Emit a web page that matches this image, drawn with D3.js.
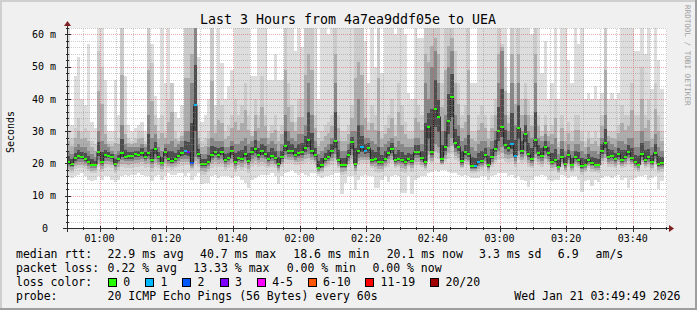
<!DOCTYPE html>
<html><head><meta charset="utf-8">
<script src="https://cdn.jsdelivr.net/npm/d3@7"></script>
<style>
body{margin:0;background:#f0f0f0}
svg{display:block}
text{font-family:"DejaVu Sans Mono",monospace;white-space:pre}
</style>
</head><body>
<svg id="c" width="697" height="310"></svg>
<script>
// ---------- data ----------
const startTime = "2026-01-21T00:50:15";
const endTime   = "2026-01-21T03:50:15";
const stepSeconds = 60;
const title = "Last 3 Hours from 4a7ea9ddf05e to UEA";
const yTickValues = [0,10,20,30,40,50,60];
const yTickLabels = ["0","10 m","20 m","30 m","40 m","50 m","60 m"];
const xTickLabels = ["01:00","01:20","01:40","02:00","02:20","02:40","03:00","03:20","03:40"];

// median rtt per minute (ms)
const median = [
20.5,19.8,21.8,22.3,22.1,21.4,20.4,19.6,19.6,23.5,
20.4,22.6,22.3,22.1,19.8,21.5,23.3,22.1,22.2,22.2,
22.9,22.7,23.3,22.1,23.3,21.1,24.6,22.1,20.2,23.5,
21.5,20.8,21.5,22.3,23.3,23.9,23.5,20.2,38.2,22.9,
19.8,19.8,20.4,22.7,23.5,22.7,23.5,21.1,21.7,23.9,
20.5,21.7,21.3,22.8,20.8,23.5,24.5,22.6,23.9,22.9,
21.4,22.3,21.7,19.8,22.0,25.4,23.9,23.9,22.7,23.3,
23.5,24.8,27.2,23.9,22.7,18.7,19.6,21.5,22.1,23.9,
26.9,21.1,19.6,19.6,22.6,26.6,19.8,23.9,25.1,23.9,
24.8,21.1,21.4,20.5,20.5,21.5,23.2,24.6,21.1,21.5,
21.1,20.4,21.5,20.8,23.5,23.5,21.7,20.4,31.4,23.5,
36.9,34.5,21.5,25.2,33.2,40.7,26.4,25.2,20.8,23.5,
22.9,19.2,19.2,20.4,20.8,22.6,19.6,22.1,24.6,30.1,
31.4,25.7,24.8,26.1,22.3,31.0,23.9,29.1,22.9,21.5,
27.2,23.3,22.3,25.2,23.3,20.5,21.1,19.0,22.1,19.8,
22.6,19.6,22.0,21.1,19.2,19.6,21.1,20.2,19.6,19.6,
23.9,26.4,22.1,22.3,21.5,22.9,21.1,22.1,23.6,21.7,
20.4,19.6,22.9,21.1,22.0,20.5,23.3,19.8,20.1];

// ping distribution per minute (ms): min, ~10%, ~25%, ~75%, ~90%, max
const pingMin = [
16,15.5,16,16.5,17,16,15,14.5,15,16,
15,16,16,15,14.3,15,16,16.5,16,16.5,
16.5,17,16.5,16,16,14.5,16,16.5,15,16,
17,16.5,16.5,17,17,16,17,15,16,17,
13.7,14,14,16,16.5,15.5,16,16,16,15.5,
16,16,15,14,12.3,15,15.5,16,16.5,16.5,
16.5,17,16,13.7,16,17,17.5,18,17,16.5,
17,16.5,16,17,17,16,15.5,16,16,16.5,
17,17,10.5,14,16,16,11.7,15,16,16.5,
16,16,12.5,12.5,15,16,14.3,16,16.5,16,
10.7,11,16,10.5,15,15.5,16,16,17,17.5,
18,17.5,18,18,17.5,17,17,16.5,16,16.5,
16,15.5,15.5,15.5,16,16,14.8,16,16.5,17,
17,17,16,16.5,15.5,16,15,14.5,12.7,15,
16,16,16.5,16,14.8,14.5,14.8,15,16.5,16,
15.5,16,16,15,11.2,14.5,15,13,14.8,14.3,
15.5,16,16,15.5,16,16.5,15,15.5,12.5,15,
15.5,16,16,16.5,15,15.5,16,12,14.5];
const ping10 = [
17.5,17.2,18.2,18.5,18.7,18.2,17.6,17,17.2,18.8,
17.5,18.7,18.8,18.5,17,18,18.8,18.7,18.5,18.6,
19,19,19.2,18.7,19,17.5,19,18.5,17.5,19,
18.5,18,18.5,19,19.2,19.5,19.5,18,19.5,19,
16.5,16.5,17.5,18.5,19.2,18.8,19,18,18.5,19,
17.5,18.5,18,18.5,17,19,19.5,19,19.2,19,
18.5,19,18.5,17,19,20,20,20.2,19.5,19.5,
19.8,20,20.5,20,19.5,16.8,17,18.5,19,19.5,
20.5,18.5,16.5,16.8,19,20,16.5,19.5,20,20,
20,18.5,17.5,17,17.5,18.5,19,20,18.5,18.8,
17.5,17.2,18.8,17.5,19.5,19.5,18.8,18,21,20,
22,21.5,19.5,20.5,21.5,23,21,20.5,18.5,19.8,
19.5,17.2,17.2,17.5,18,19,17.2,19,20,21,
21.5,20.5,20,20.5,19,21,20,20.5,19,18.5,
20.5,19.5,19,20,19.5,17.8,18,17,19,17.5,
19,17.5,19,18.5,16.5,17.5,18.5,17.5,17.5,17.2,
19.5,20.5,19,19,18.5,19.5,18.5,19,19.5,19,
18,17.5,19.5,18.5,19,18,19.5,17,17.5];
const ping25 = [
19.3,18.8,20,20.5,20.5,20,19.2,18.6,18.6,21,
19.3,20.8,20.8,20.5,18.8,20,21,20.7,20.8,20.8,
21.2,21.2,21.5,20.7,21.5,19.8,21.5,20.6,19.2,21.3,
20.2,19.7,20.2,20.8,21.5,21.5,21.3,19.2,22,21.3,
18.6,18.5,19.2,21,21.6,21,21.5,19.8,20.4,21.5,
19.3,20.4,20,21,19.6,21.5,22,21,21.6,21.3,
20.2,20.8,20.3,18.7,20.6,22.5,22,22,21.2,21.6,
21.7,22.5,23,22,21.2,17.8,18.5,20.2,20.7,21.8,
23,19.8,18.5,18.5,20.8,22.5,18.7,21.8,22,22,
22,19.8,20.1,19.3,19.3,20.2,21.4,22.2,19.8,20.2,
19.8,19.3,20.2,19.6,21.6,21.6,20.4,19.3,24,21.6,
26,25,20.3,22.5,25,28,23.5,22.8,19.6,21.5,
21.2,18.2,18.2,19.3,19.6,20.8,18.5,20.6,22.3,24,
25,23,22.5,23,20.8,24,22,24,21.2,20.2,
23,21.5,20.8,22.5,21.5,19.4,19.9,18,20.6,18.7,
21,18.6,20.5,19.9,18.2,18.6,19.9,19.1,18.6,18.6,
21.8,23,20.6,20.8,20.2,21.2,19.9,20.6,21.8,20.4,
19.3,18.6,21.2,19.9,20.6,19.4,21.5,18.8,19];
const ping75 = [
24,23,25,26,25,25,24,23,22,30,
27,26,25,24,23,24,32,26,25,25,
25,25,26,25,35,28,29,25,24,26,
26,27,25,26,27,30,30,45,63,26,
23,23,25,28,27,27,27,25,25,27,
26,26,27,28,26,27,30,27,28,28,
26,27,26,24,26,35,30,28,27,29,
29,32,45,35,27,23,24,25,26,28,
45,27,24,24,26,30,30,40,32,28,
28,27,26,30,25,26,27,28,25,27,
26,25,25,25,28,28,26,45,40,50,
55,45,30,35,50,55,35,32,27,28,
35,25,24,26,27,27,25,27,30,45,
55,35,30,45,32,45,30,35,30,28,
45,28,27,29,27,26,28,23,27,24,
26,24,26,26,24,23,25,24,24,23,
28,35,27,26,25,27,27,26,28,28,
25,25,30,27,27,25,29,25,24];
const ping90 = [
30,28,31,34,30,31,30,27,26,55,
50,32,27,27,30,28,63,32,28,27,
28,30,30,27,63,51,35,30,35,30,
40,45,30,28,30,63,63,63,63,30,
27,28,30,63,32,40,38,30,32,35,
40,35,38,45,35,30,40,35,47,35,
30,32,35,30,32,63,45,38,33,40,
40,63,63,63,35,28,30,32,33,35,
63,35,30,30,32,38,63,63,63,40,
33,38,35,63,30,32,35,40,32,45,
38,33,30,30,40,38,35,63,63,63,
63,63,45,63,63,63,55,45,35,38,
63,30,30,35,38,35,30,35,40,63,
57,50,35,63,45,63,40,45,40,35,
63,35,30,35,30,32,40,27,35,30,
33,30,35,35,30,27,30,28,30,28,
35,63,30,30,30,32,38,35,35,45,
35,35,50,35,40,30,45,35,30];
const pingMax = [
63,32,47,53,40,38,57,33,31,63,
63,46,30,30,46,35,63,47,32,30,
31,32,33,30,63,57,41,34,63,45,
63,45,36,34,38,63,63,63,63,53,
33,35,40,63,38,63,51,40,44,49,
63,63,63,63,63,47,47,63,63,63,
46,46,54,46,46,63,63,63,55,63,
56,63,63,63,63,40,63,63,60,63,
63,63,63,63,63,63,63,63,63,58,
45,63,50,63,48,63,63,63,60,63,
63,60,42,40,63,59,59,63,63,63,
63,63,63,63,63,63,63,63,63,63,
63,45,45,63,63,63,63,63,63,63,
63,63,42,63,63,63,63,63,63,60,
63,63,48,58,40,45,63,40,63,63,
52,45,63,57,63,40,42,40,44,40,
42,63,40,42,40,42,63,63,63,63,
55,55,63,54,63,43,63,52,43];

// minutes with lost pings (index into the series) and how many of 20 were lost
const lossIndex = [35,36,37,38,88,89,122,123,133,134];
const lossCount = [1,3,2,1,1,1,1,1,1,1];

const lossLabels = ["0","1","2","3","4-5","6-10","11-19","20/20"];
const lossColors = ["#26ff00","#00b8ff","#0059ff","#7e00ff","#ff00ff","#ff5500","#ff0000","#a00000"];

const statsRtt  = ["22.9 ms avg","40.7 ms max","18.6 ms min","20.1 ms now","3.3 ms sd","6.9","am/s"];
const statsLoss = ["0.22 % avg","13.33 % max","0.00 % min","0.00 % now"];
const probeText = "20 ICMP Echo Pings (56 Bytes) every 60s";
const dateText  = "Wed Jan 21 03:49:49 2026";

// ---------- drawing ----------
const W = 697, H = 310;
const X0 = 67, XS = 600, Y0 = 228, YS = 200;
const svg = d3.select("#c");

const parse = d3.timeParse("%Y-%m-%dT%H:%M:%S");
const t0 = parse(startTime), t1 = parse(endTime);
const x = d3.scaleTime().domain([t0, t1]).range([X0, X0 + XS]);
const y = d3.scaleLinear().domain([0, 62]).range([Y0, Y0 - YS]);
const tAt = i => new Date(t0.getTime() + i * stepSeconds * 1000);

function lossColor(n){
  if (n === 0) return lossColors[0];
  if (n <= 3) return lossColors[n];
  if (n <= 5) return lossColors[4];
  if (n <= 10) return lossColors[5];
  if (n <= 19) return lossColors[6];
  return lossColors[7];
}
const lossOf = median.map(() => 0);
lossIndex.forEach((idx, k) => { lossOf[idx] = lossCount[k]; });

// background + shade
svg.append("rect").attr("width", W).attr("height", H).attr("fill", "#f0f0f0");
svg.append("rect").attr("x",0).attr("y",0).attr("width",W).attr("height",2).attr("fill","#cfcfcf");
svg.append("rect").attr("x",0).attr("y",0).attr("width",2).attr("height",H).attr("fill","#cfcfcf");
svg.append("rect").attr("x",0).attr("y",H-2).attr("width",W).attr("height",2).attr("fill","#9e9e9e");
svg.append("rect").attr("x",W-2).attr("y",0).attr("width",2).attr("height",H).attr("fill","#9e9e9e");

// canvas
svg.append("rect").attr("x", X0).attr("y", Y0 - YS).attr("width", XS).attr("height", YS).attr("fill", "#ffffff");

svg.append("clipPath").attr("id","plot").append("rect")
  .attr("x", X0).attr("y", Y0 - YS).attr("width", XS).attr("height", YS);
const g = svg.append("g").attr("clip-path","url(#plot)");

const idx = d3.range(median.length);
const bands = [
  {lo: i => pingMin[i], hi: i => pingMax[i], c: "#dddddd"},
  {lo: i => ping10[i],  hi: i => ping90[i],  c: "#cbcbcb"},
  {lo: i => (ping10[i]+ping25[i])/2, hi: i => (ping75[i]+ping90[i])/2, c: "#adadad"},
  {lo: i => ping25[i],  hi: i => ping75[i],  c: "#878787"},
  {lo: i => (ping25[i]+median[i])/2, hi: i => (median[i]+ping75[i])/2, c: "#4e4e4e"}
];
bands.forEach(b => {
  g.append("g").selectAll("rect").data(idx).join("rect")
    .attr("x", i => x(tAt(i)))
    .attr("width", i => x(tAt(i+1)) - x(tAt(i)) + 0.05)
    .attr("y", i => y(b.hi(i)))
    .attr("height", i => Math.max(0, y(b.lo(i)) - y(b.hi(i))))
    .attr("fill", b.c)
    .attr("shape-rendering","crispEdges");
});

// median line
const pts = idx.map(i => [x(tAt(i)), y(median[i])]);
pts.push([x(tAt(median.length)), y(median[median.length-1])]);
g.append("path").attr("d", d3.line().curve(d3.curveStepAfter)(pts))
  .attr("fill","none").attr("stroke","#202020").attr("stroke-width",1);

// loss-coloured median bars
g.append("g").selectAll("rect").data(idx).join("rect")
  .attr("x", i => x(tAt(i)))
  .attr("width", i => x(tAt(i+1)) - x(tAt(i)) + 0.05)
  .attr("y", i => y(median[i]) - 1)
  .attr("height", 2)
  .attr("fill", i => lossColor(lossOf[i]))
  .attr("shape-rendering","crispEdges");

// grid
const gridG = svg.append("g").attr("shape-rendering","crispEdges");
const minorX = d3.timeMinute.every(5).range(t0, t1).filter(t => t.getMinutes() % 20 !== 0);
const majorX = d3.timeMinute.every(20).range(t0, t1);
const minorY = d3.range(2, 63, 2).filter(v => v % 10 !== 0);
const majorY = yTickValues.filter(v => v > 0);

minorX.forEach(t => {
  const xx = Math.round(x(t)) + 0.5;
  gridG.append("line").attr("x1",xx).attr("x2",xx).attr("y1",Y0).attr("y2",Y0-YS)
    .attr("stroke","#8f8f8f").attr("stroke-opacity",0.45).attr("stroke-dasharray","1,1");
});
minorY.forEach(v => {
  const yy = Math.round(y(v)) + 0.5;
  gridG.append("line").attr("x1",X0).attr("x2",X0+XS).attr("y1",yy).attr("y2",yy)
    .attr("stroke","#8f8f8f").attr("stroke-opacity",0.45).attr("stroke-dasharray","1,1");
});
majorX.forEach(t => {
  const xx = Math.round(x(t)) + 0.5;
  gridG.append("line").attr("x1",xx).attr("x2",xx).attr("y1",Y0).attr("y2",Y0-YS)
    .attr("stroke","#de5151").attr("stroke-opacity",0.5).attr("stroke-dasharray","1,1");
});
majorY.forEach(v => {
  const yy = Math.round(y(v)) + 0.5;
  gridG.append("line").attr("x1",X0).attr("x2",X0+XS).attr("y1",yy).attr("y2",yy)
    .attr("stroke","#de5151").attr("stroke-opacity",0.5).attr("stroke-dasharray","1,1");
});

// axes
const axisC = "#2c2c2c";
const ax = svg.append("g").attr("shape-rendering","crispEdges");
ax.append("line").attr("x1",X0-4).attr("x2",X0+XS+4).attr("y1",Y0+0.5).attr("y2",Y0+0.5).attr("stroke",axisC);
ax.append("line").attr("x1",X0+0.5).attr("x2",X0+0.5).attr("y1",Y0+4).attr("y2",Y0-YS-4).attr("stroke",axisC);
minorX.forEach(t => { const xx = Math.round(x(t))+0.5;
  ax.append("line").attr("x1",xx).attr("x2",xx).attr("y1",Y0-1).attr("y2",Y0+2).attr("stroke",axisC); });
majorX.forEach(t => { const xx = Math.round(x(t))+0.5;
  ax.append("line").attr("x1",xx).attr("x2",xx).attr("y1",Y0-2).attr("y2",Y0+4).attr("stroke",axisC); });
minorY.forEach(v => { const yy = Math.round(y(v))+0.5;
  ax.append("line").attr("x1",X0-1).attr("x2",X0+2).attr("y1",yy).attr("y2",yy).attr("stroke",axisC); });
majorY.forEach(v => { const yy = Math.round(y(v))+0.5;
  ax.append("line").attr("x1",X0-2).attr("x2",X0+4).attr("y1",yy).attr("y2",yy).attr("stroke",axisC); });
// arrows
svg.append("path").attr("d", `M${X0+XS+2},${Y0-3}L${X0+XS+2},${Y0+4}L${X0+XS+7},${Y0+0.5}Z`).attr("fill","#7f1f1f");
svg.append("path").attr("d", `M${X0-3},${Y0-YS-2}L${X0+4},${Y0-YS-2}L${X0+0.5},${Y0-YS-7}Z`).attr("fill","#7f1f1f");

// tick labels
majorX.forEach((t, k) => {
  svg.append("text").attr("x", x(t)).attr("y", 241.5).attr("text-anchor","middle")
    .attr("font-size", 10).text(xTickLabels[k]);
});
yTickValues.forEach((v, k) => {
  svg.append("text").attr("x", v === 0 ? 48 : 56).attr("y", y(v)).attr("dy","0.36em")
    .attr("text-anchor","end").attr("font-size", 10).text(yTickLabels[k]);
});

// axis title
svg.append("text").attr("transform","translate(14,132) rotate(-90)").attr("text-anchor","middle")
  .attr("font-size", 10).text("Seconds");

// title
svg.append("text").attr("x", 348).attr("y", 24).attr("text-anchor","middle")
  .attr("font-size", 13.3).text(title);

// watermark
svg.append("text").attr("transform","translate(684.5,5) rotate(90)")
  .attr("font-size", 7.6).attr("fill","#a0a0a0").text("RRDTOOL / TOBI OETIKER");

// legend
const LF = 11.5;
const rows = [257.8, 272, 286.2, 300.4];
const leg = (xx, yy, s) => svg.append("text").attr("x", xx).attr("y", yy).attr("font-size", LF).text(s);
leg(16, rows[0], "median rtt:");
[107.6, 200, 293.3, 386.7, 479.1, 557.8, 595.6].forEach((xx, k) => leg(xx, rows[0], statsRtt[k]));
leg(16, rows[1], "packet loss:");
[107.6, 193.3, 286.7, 372.4].forEach((xx, k) => leg(xx, rows[1], statsLoss[k]));
leg(16, rows[2], "loss color:");
const boxX = [108, 145.3, 182.2, 219.6, 256.9, 307.6, 365.3, 430.2];
boxX.forEach((bx, k) => {
  svg.append("rect").attr("x", Math.round(bx)+0.5).attr("y", 278.5).attr("width", 8).attr("height", 8)
    .attr("fill", lossColors[k]).attr("stroke","#000").attr("stroke-width",1);
  leg(bx + 15.3, rows[2], lossLabels[k]);
});
leg(16, rows[3], "probe:");
leg(107.6, rows[3], probeText);
svg.append("text").attr("x", 680.5).attr("y", rows[3]).attr("text-anchor","end").attr("font-size", LF).text(dateText);
</script>
</body></html>
